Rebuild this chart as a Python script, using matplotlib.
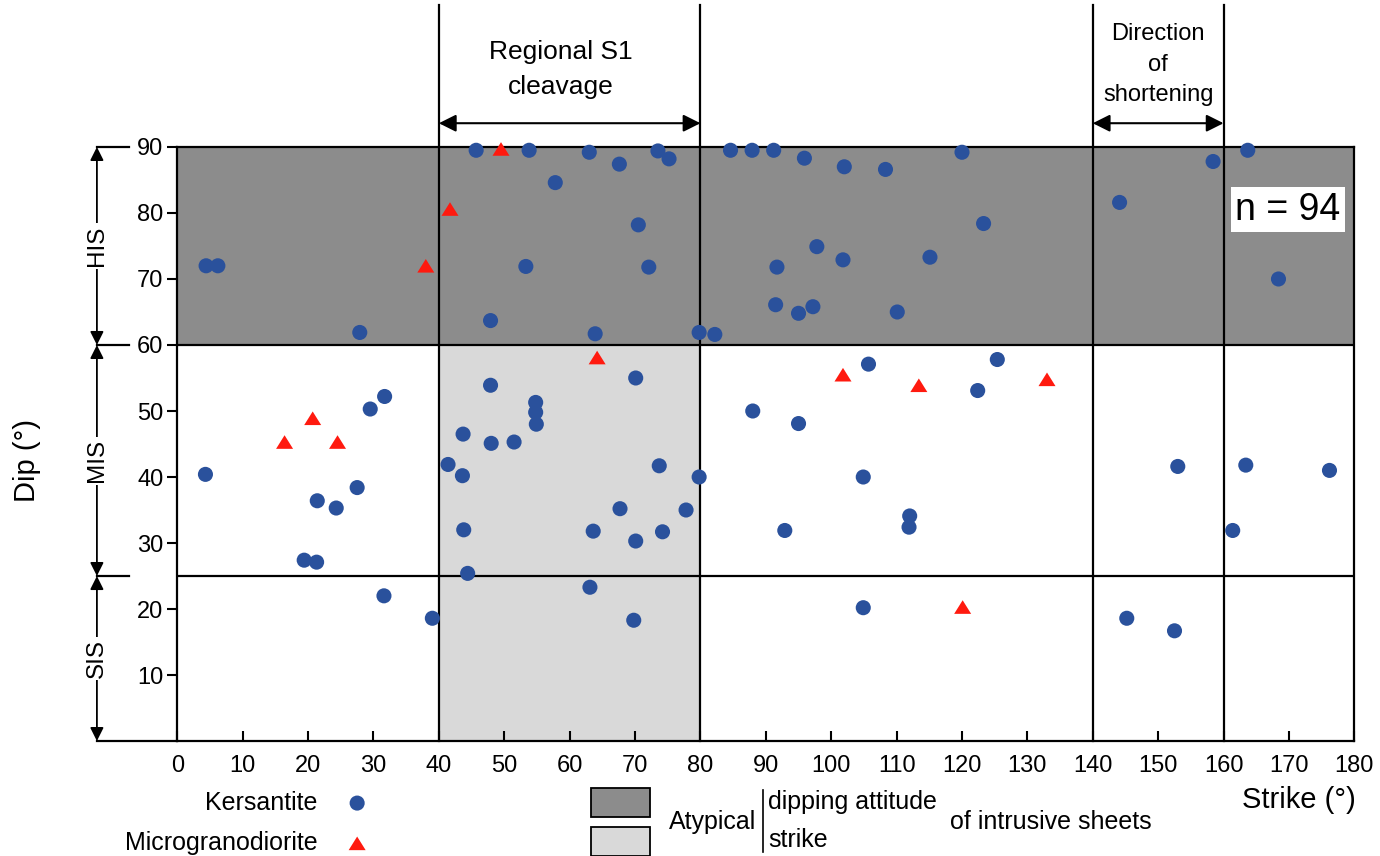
import matplotlib.pyplot as plt
from matplotlib.patches import Rectangle

plt.rcParams['font.family'] = ['Liberation Sans', 'DejaVu Sans']

# kersantite sheets: strike (deg) and dip (deg)
kers_strike = [4.4, 6.2, 27.9, 45.7, 53.8, 57.8, 53.3, 47.9, 63.0, 67.6, 73.5, 75.2,
               70.5, 72.1, 63.9, 79.8, 82.2, 84.6, 87.9, 91.2, 95.9, 102.0, 108.3, 120.0,
               97.8, 101.8, 115.1, 91.7, 91.5, 95.0, 97.2, 110.1, 123.3, 144.1, 158.4, 163.7,
               168.4,
               47.9, 54.8, 54.8, 54.9, 43.7, 31.7, 29.5, 4.3, 27.5, 21.4, 24.3, 19.4,
               21.3, 48.0, 51.5, 41.4, 43.6, 43.8, 44.4, 70.1, 105.7, 125.4, 122.4, 88.0,
               95.0, 73.7, 79.8, 67.7, 77.8, 63.6, 74.2, 70.1, 104.9, 92.9, 112.0, 111.9,
               153.0, 163.4, 176.2, 161.4,
               31.6, 39.0, 63.1, 69.8, 104.9, 145.2, 152.5]
kers_dip = [72.0, 72.0, 61.9, 89.5, 89.5, 84.6, 71.9, 63.7, 89.2, 87.4, 89.4, 88.2,
            78.2, 71.8, 61.7, 61.9, 61.6, 89.5, 89.5, 89.5, 88.3, 87.0, 86.6, 89.2,
            74.9, 72.9, 73.3, 71.8, 66.1, 64.8, 65.8, 65.0, 78.4, 81.6, 87.8, 89.5,
            70.0,
            53.9, 51.3, 49.8, 48.0, 46.5, 52.2, 50.3, 40.4, 38.4, 36.4, 35.3, 27.4,
            27.1, 45.1, 45.3, 41.9, 40.2, 32.0, 25.4, 55.0, 57.1, 57.8, 53.1, 50.0,
            48.1, 41.7, 40.0, 35.2, 35.0, 31.8, 31.7, 30.3, 40.0, 31.9, 34.1, 32.4,
            41.6, 41.8, 41.0, 31.9,
            22.0, 18.6, 23.3, 18.3, 20.2, 18.6, 16.7]

# microgranodiorite sheets
micro_strike = [38.0, 41.7, 49.5, 64.2, 101.8, 113.4, 133.0, 16.4, 20.7, 24.5, 120.1]
micro_dip = [72.0, 80.6, 89.7, 58.1, 55.5, 53.9, 54.8, 45.3, 48.9, 45.3, 20.3]

xticks = list(range(0, 181, 10))
yticks = list(range(10, 91, 10))
class_bounds = [0, 25, 60, 90]
class_names = ['SIS', 'MIS', 'HIS']
s1_range = [40, 80]
shortening_range = [140, 160]

blue = '#2a519c'
red = '#ff1a0f'
dark = '#8c8c8c'
light = '#d9d9d9'

fig = plt.figure(figsize=(13.8, 8.56), dpi=100)
ax = fig.add_axes([0.1285, 0.1343, 0.8529, 0.694])
ax.set_xlim(0, 180)
ax.set_ylim(0, 90)

# atypical domains
ax.add_patch(Rectangle((0, 60), 180, 30, fc=dark, ec='none', zorder=0))
ax.add_patch(Rectangle((s1_range[0], 0), s1_range[1] - s1_range[0], 60,
                       fc=light, ec='none', zorder=0))

lw = 1.6
bx = -12.3   # x of the class brackets
for yb in class_bounds:
    if yb == 0:
        ax.plot([bx, 0], [yb, yb], color='k', lw=lw, clip_on=False)
    else:
        ax.plot([bx, -7.4], [yb, yb], color='k', lw=lw, clip_on=False)
    if yb in (25, 60):
        ax.plot([0, 180], [yb, yb], color='k', lw=lw, zorder=2)

for xv in s1_range + shortening_range:
    ax.plot([xv, xv], [0, 111.5], color='k', lw=lw, clip_on=False, zorder=2)

# class brackets
for lo, hi, name in zip(class_bounds[:-1], class_bounds[1:], class_names):
    ax.annotate('', xy=(bx, hi), xytext=(bx, lo), annotation_clip=False,
                arrowprops=dict(arrowstyle='<|-|>', color='k', lw=1.3,
                                mutation_scale=20, shrinkA=0, shrinkB=0))
    ax.text(bx, (lo + hi) / 2, name, rotation=90, ha='center', va='center',
            fontsize=17.5, clip_on=False,
            bbox=dict(fc='white', ec='none', boxstyle='square,pad=0.1'))

# top annotations
for rng in (s1_range, shortening_range):
    ax.annotate('', xy=(rng[1], 93.6), xytext=(rng[0], 93.6), annotation_clip=False,
                arrowprops=dict(arrowstyle='<|-|>', color='k', lw=1.5,
                                mutation_scale=26, shrinkA=0, shrinkB=0))
ax.text(58.7, 101.7, 'Regional S1\ncleavage', ha='center', va='center', fontsize=19,
        linespacing=1.6, clip_on=False)
ax.text(150, 102.45, 'Direction\nof\nshortening', ha='center', va='center', fontsize=17,
        linespacing=1.5, clip_on=False)

# data
tri = [(-1, -0.8), (1, -0.8), (0, 0.8)]
ax.scatter(kers_strike, kers_dip, s=118, c=blue, edgecolors='none', zorder=4, clip_on=False)
ax.scatter(micro_strike, micro_dip, s=150, c=red, marker=tri, edgecolors='none',
           zorder=4, clip_on=False)

ax.text(169.8, 80.5, 'n = 94', ha='center', va='center', fontsize=27, zorder=5,
        bbox=dict(fc='white', ec='none', boxstyle='square,pad=0.12'))

ax.set_xticks(xticks)
ax.set_yticks(yticks)
ax.tick_params(axis='x', direction='in', length=7, width=1.5, pad=10, labelsize=17)
ax.tick_params(axis='y', direction='out', length=7, width=1.5, pad=3, labelsize=17)
for sp in ax.spines.values():
    sp.set_linewidth(lw)
    sp.set_zorder(3)

fig.text(27 / 1380, 1 - 460 / 856, 'Dip (°)', rotation=90, ha='center', va='center',
         fontsize=21)
ax.text(180.2, -8.9, 'Strike (°)', ha='right', va='center', fontsize=21, clip_on=False)

# legend
ax.text(21.4, -9.4, 'Kersantite', ha='right', va='center', fontsize=18, clip_on=False)
ax.text(21.4, -15.5, 'Microgranodiorite', ha='right', va='center', fontsize=18, clip_on=False)
ax.scatter([27.5], [-9.4], s=118, c=blue, edgecolors='none', clip_on=False)
ax.scatter([27.5], [-15.5], s=150, c=red, marker=tri, edgecolors='none', clip_on=False)
ax.add_patch(Rectangle((63.3, -11.5), 9.0, 4.4, fc=dark, ec='k', lw=1.3, clip_on=False))
ax.add_patch(Rectangle((63.3, -17.4), 9.0, 4.4, fc=light, ec='k', lw=1.3, clip_on=False))
ax.text(88.6, -12.3, 'Atypical', ha='right', va='center', fontsize=18, clip_on=False)
ax.plot([89.5, 89.5], [-7.4, -16.8], color='k', lw=1.2, clip_on=False)
ax.text(90.4, -9.2, 'dipping attitude', ha='left', va='center', fontsize=18, clip_on=False)
ax.text(90.4, -15.0, 'strike', ha='left', va='center', fontsize=18, clip_on=False)
ax.text(118.2, -12.3, 'of intrusive sheets', ha='left', va='center', fontsize=18, clip_on=False)

fig.savefig('out.png', dpi=100)
